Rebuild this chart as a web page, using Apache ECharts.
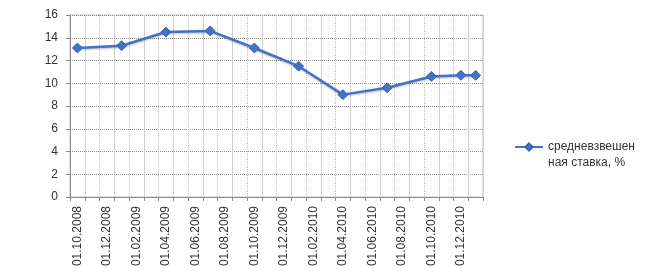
<!DOCTYPE html>
<html>
<head>
<meta charset="utf-8">
<script src="https://cdn.jsdelivr.net/npm/echarts@6/dist/echarts.min.js"></script>
<style>html,body{margin:0;padding:0;background:#fff}#c{width:647px;height:278px}</style>
</head>
<body>
<div id="c"></div>
<script>
// Monthly date axis (categories), Oct 2008 .. Jan 2011
var months = ["01.10.2008","01.11.2008","01.12.2008","01.01.2009","01.02.2009","01.03.2009","01.04.2009","01.05.2009","01.06.2009","01.07.2009","01.08.2009","01.09.2009","01.10.2009","01.11.2009","01.12.2009","01.01.2010","01.02.2010","01.03.2010","01.04.2010","01.05.2010","01.06.2010","01.07.2010","01.08.2010","01.09.2010","01.10.2010","01.11.2010","01.12.2010","01.01.2011"];
// Observed dates and weighted average rate values
var obsDates = ["01.10.2008","01.01.2009","01.04.2009","01.07.2009","01.10.2009","01.01.2010","01.04.2010","01.07.2010","01.10.2010","01.12.2010","01.01.2011"];
var rates = [13.1, 13.3, 14.5, 14.6, 13.1, 11.5, 9.0, 9.6, 10.6, 10.7, 10.7];
var seriesName = "средневзвешенная ставка, %";
var yTicks = [0, 2, 4, 6, 8, 10, 12, 14, 16];

var seriesData = months.map(function (m) {
  var i = obsDates.indexOf(m);
  return i >= 0 ? rates[i] : null;
});

var chart = echarts.init(document.getElementById('c'), null, {renderer: 'canvas'});
var font = "'Liberation Sans', Arial, sans-serif";
chart.setOption({
  animation: false,
  backgroundColor: '#fff',
  grid: {left: 70, right: 164, top: 15, bottom: 81, show: true, borderColor: '#c4c4c4', borderWidth: 1},
  legend: {
    data: [seriesName],
    left: 514, top: 123, padding: 0,
    orient: 'vertical',
    itemWidth: 28, itemHeight: 9, itemGap: 4,
    formatter: function () { return ' \nсредневзвешен\nная ставка, %'; },
    textStyle: {fontFamily: font, fontSize: 12, color: '#333', lineHeight: 16}
  },
  xAxis: [{
    type: 'category',
    data: months,
    boundaryGap: true,
    axisLine: {show: true, lineStyle: {color: '#8a8a8a', width: 1}},
    axisTick: {show: true, interval: 0, length: 4, lineStyle: {color: '#8a8a8a'}},
    axisLabel: {interval: 1, rotate: 90, margin: 9, fontFamily: font, fontSize: 12, color: '#333'},
    splitLine: {show: true, interval: 0, lineStyle: {color: '#bdbdbd', type: [1, 1], width: 1}}
  }, {
    type: 'category',
    data: months,
    boundaryGap: true,
    position: 'bottom',
    axisLine: {show: false},
    axisTick: {show: false},
    axisLabel: {show: false},
    splitLine: {show: true, interval: function (i) { return i % 2 === 1; }, lineStyle: {color: '#cfcfcf', width: 1}}
  }],
  yAxis: {
    type: 'value',
    min: yTicks[0], max: yTicks[yTicks.length - 1], interval: 2,
    axisLine: {show: true, lineStyle: {color: '#8a8a8a'}},
    axisTick: {show: true, length: 4, lineStyle: {color: '#8a8a8a'}},
    axisLabel: {margin: 12, fontFamily: font, fontSize: 12, color: '#333'},
    splitLine: {show: true, lineStyle: {color: '#8c8c8c', type: [1, 1], width: 1}}
  },
  series: [{
    name: seriesName,
    type: 'line',
    xAxisIndex: 0,
    data: seriesData,
    connectNulls: true,
    showAllSymbol: true,
    symbol: 'diamond',
    symbolSize: 10,
    lineStyle: {color: '#4472C4', width: 2.5, shadowColor: 'rgba(0,0,0,0.25)', shadowBlur: 2, shadowOffsetY: 1},
    itemStyle: {color: '#4472C4', borderColor: '#3a64b0', borderWidth: 1}
  }]
});
</script>
</body>
</html>
